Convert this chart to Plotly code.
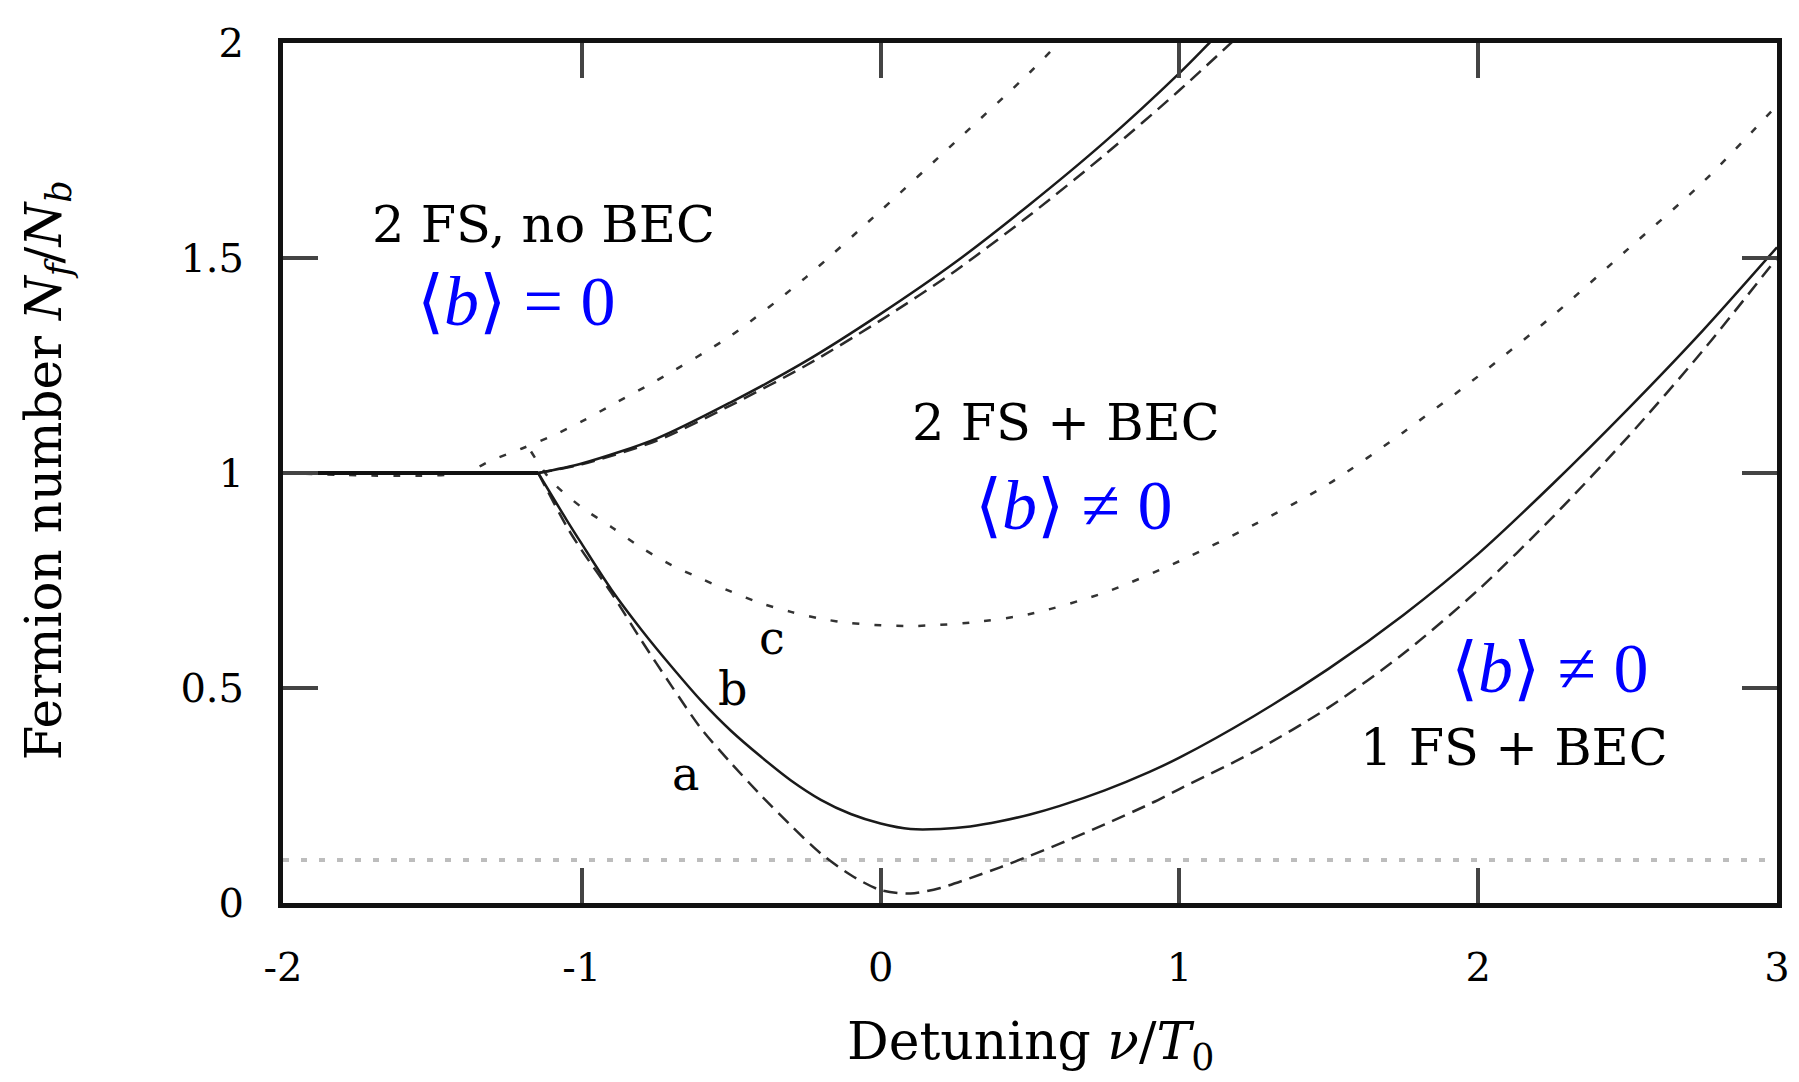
import plotly.graph_objects as go

# ---- data ----
FLAT_X = [-2.0, -1.5, -1.146]
FLAT_Y = [1.0, 1.0, 1.0]

# curve b (solid): lower and upper branches
B_LOW_X = [-1.146, -1.05, -1.0, -0.9, -0.8, -0.7, -0.6, -0.5, -0.4, -0.3, -0.2, -0.1, 0.0, 0.1, 0.2, 0.3,
           0.4, 0.5, 0.6, 0.75, 0.9, 1.0, 1.25, 1.5, 1.75, 2.0, 2.25, 2.5, 2.75, 3.0]
B_LOW_Y = [1.0, 0.89, 0.835, 0.728, 0.635, 0.55, 0.47, 0.40, 0.34, 0.285, 0.24, 0.207, 0.185, 0.172, 0.172, 0.178,
           0.19, 0.206, 0.226, 0.262, 0.305, 0.338, 0.435, 0.545, 0.67, 0.812, 0.975, 1.148, 1.33, 1.525]
B_UP_X = [-1.146, -1.0, -0.75, -0.5, -0.25, 0.0, 0.25, 0.5, 0.75, 1.0, 1.1, 1.15]
B_UP_Y = [1.0, 1.022, 1.08, 1.165, 1.26, 1.37, 1.49, 1.625, 1.77, 1.93, 2.0, 2.035]

# curve a (dashed): lower and upper branches
A_LOW_X = [-1.146, -1.05, -1.0, -0.9, -0.8, -0.7, -0.6, -0.5, -0.4, -0.3, -0.2, -0.1, 0.0, 0.1, 0.2, 0.3,
           0.4, 0.5, 0.6, 0.75, 0.9, 1.0, 1.25, 1.5, 1.75, 2.0, 2.25, 2.5, 2.75, 3.0]
A_LOW_Y = [1.0, 0.875, 0.82, 0.72, 0.61, 0.505, 0.405, 0.325, 0.25, 0.18, 0.115, 0.065, 0.03, 0.022, 0.035, 0.058,
           0.083, 0.11, 0.138, 0.183, 0.23, 0.265, 0.352, 0.455, 0.58, 0.728, 0.898, 1.083, 1.283, 1.50]
A_UP_X = [-1.146, -1.0, -0.75, -0.5, -0.25, 0.0, 0.25, 0.5, 0.75, 1.0, 1.25]
A_UP_Y = [1.0, 1.02, 1.075, 1.158, 1.25, 1.355, 1.47, 1.60, 1.74, 1.89, 2.05]

# curve c (dotted): upper and lower branches
C_UP_X = [-2.0, -1.4, -1.3, -1.2, -1.1, -1.0, -0.9, -0.75, -0.5, -0.25, 0.0, 0.25, 0.5, 0.6, 0.65]
C_UP_Y = [1.0, 1.0, 1.03, 1.057, 1.086, 1.12, 1.158, 1.215, 1.32, 1.455, 1.61, 1.77, 1.932, 2.003, 2.04]
C_LOW_X = [-1.17, -1.1, -1.0, -0.9, -0.8, -0.7, -0.6, -0.5, -0.4, -0.3, -0.2, -0.1, 0.0, 0.1, 0.2, 0.3,
           0.5, 0.75, 1.0, 1.25, 1.5, 1.75, 2.0, 2.25, 2.5, 2.75, 3.0]
C_LOW_Y = [1.05, 0.98, 0.92, 0.874, 0.826, 0.786, 0.754, 0.724, 0.697, 0.677, 0.661, 0.651, 0.646, 0.644, 0.647,
           0.652, 0.672, 0.722, 0.795, 0.88, 0.975, 1.095, 1.225, 1.366, 1.52, 1.675, 1.855]

THRESH_X = [-2.0, 3.0]
THRESH_Y = [0.1, 0.1]

X_TICKS = [-2, -1, 0, 1, 2, 3]
X_TICKTEXT = ["-2", "-1", "0", "1", "2", "3"]
Y_TICKS = [0, 0.5, 1, 1.5, 2]
Y_TICKTEXT = ["0", "0.5", "1", "1.5", "2"]

TEXT_LABELS = [  # (x, y, text, colour, size)
    (-1.127, 1.578, "2 FS, no BEC", "black", 51),
    (-1.22, 1.40, "⟨<i>b</i>⟩ = 0", "blue", 70),
    (0.622, 1.118, "2 FS + BEC", "black", 51),
    (0.644, 0.924, "⟨<i>b</i>⟩ ≠ 0", "blue", 70),
    (2.237, 0.545, "⟨<i>b</i>⟩ ≠ 0", "blue", 70),
    (2.12, 0.361, "1 FS + BEC", "black", 51),
    (-0.362, 0.617, "c", "black", 46),
    (-0.496, 0.498, "b", "black", 46),
    (-0.654, 0.30, "a", "black", 46),
]

SERIF = "DejaVu Serif"
MATH = "Liberation Serif"

fig = go.Figure()

def add(x, y, color, width, dash, shape="spline"):
    fig.add_trace(go.Scatter(x=x, y=y, mode="lines", showlegend=False,
                             line=dict(color=color, width=width, dash=dash, shape=shape, smoothing=0.8),
                             hoverinfo="skip"))

add(THRESH_X, THRESH_Y, "#bdbdbd", 4, "6px,12px", "linear")
add(C_UP_X, C_UP_Y, "#333333", 2.5, "7px,15px")
add(C_LOW_X, C_LOW_Y, "#333333", 2.5, "7px,15px")
add(A_UP_X, A_UP_Y, "#2a2a2a", 2.5, "14px,8px")
add(A_LOW_X, A_LOW_Y, "#2a2a2a", 2.5, "14px,8px")
add(B_UP_X, B_UP_Y, "#1a1a1a", 2.5, "solid")
add(B_LOW_X, B_LOW_Y, "#1a1a1a", 2.5, "solid")
add(FLAT_X, FLAT_Y, "#111111", 4, "solid", "linear")

for (tx, ty, txt, col, sz) in TEXT_LABELS:
    fig.add_annotation(x=tx, y=ty, xref="x", yref="y", text=txt, showarrow=False,
                       font=dict(family=MATH if col == "blue" else SERIF, size=sz, color=col),
                       xanchor="center", yanchor="middle")

fig.add_annotation(x=0.5, y=-0.165, xref="paper", yref="paper",
                   text="Detuning <i>ν</i>/<i>T</i><sub>0</sub>", showarrow=False,
                   font=dict(family=SERIF, size=52, color="black"), xanchor="center", yanchor="middle")
fig.add_annotation(x=-0.158, y=0.503, xref="paper", yref="paper", textangle=-90,
                   text="Fermion number <i>N<sub>f</sub></i>/<i>N<sub>b</sub></i>", showarrow=False,
                   font=dict(family=SERIF, size=50, color="black"), xanchor="center", yanchor="middle")

axis_common = dict(showgrid=False, zeroline=False, showline=True, linewidth=5, linecolor="#111111",
                   mirror="allticks", ticks="inside", ticklen=35, tickwidth=4, tickcolor="#444444",
                   tickfont=dict(family=SERIF, size=40, color="black"))

fig.update_xaxes(range=[-2, 3], tickvals=X_TICKS, ticktext=X_TICKTEXT, ticklabelstandoff=25, **axis_common)
fig.update_yaxes(range=[0, 2], tickvals=Y_TICKS, ticktext=Y_TICKTEXT, ticklabelstandoff=26, **axis_common)

fig.update_layout(width=1799, height=1082, margin=dict(l=275, r=30, t=24, b=187),
                  paper_bgcolor="white", plot_bgcolor="white")

fig.write_html("out.html")
